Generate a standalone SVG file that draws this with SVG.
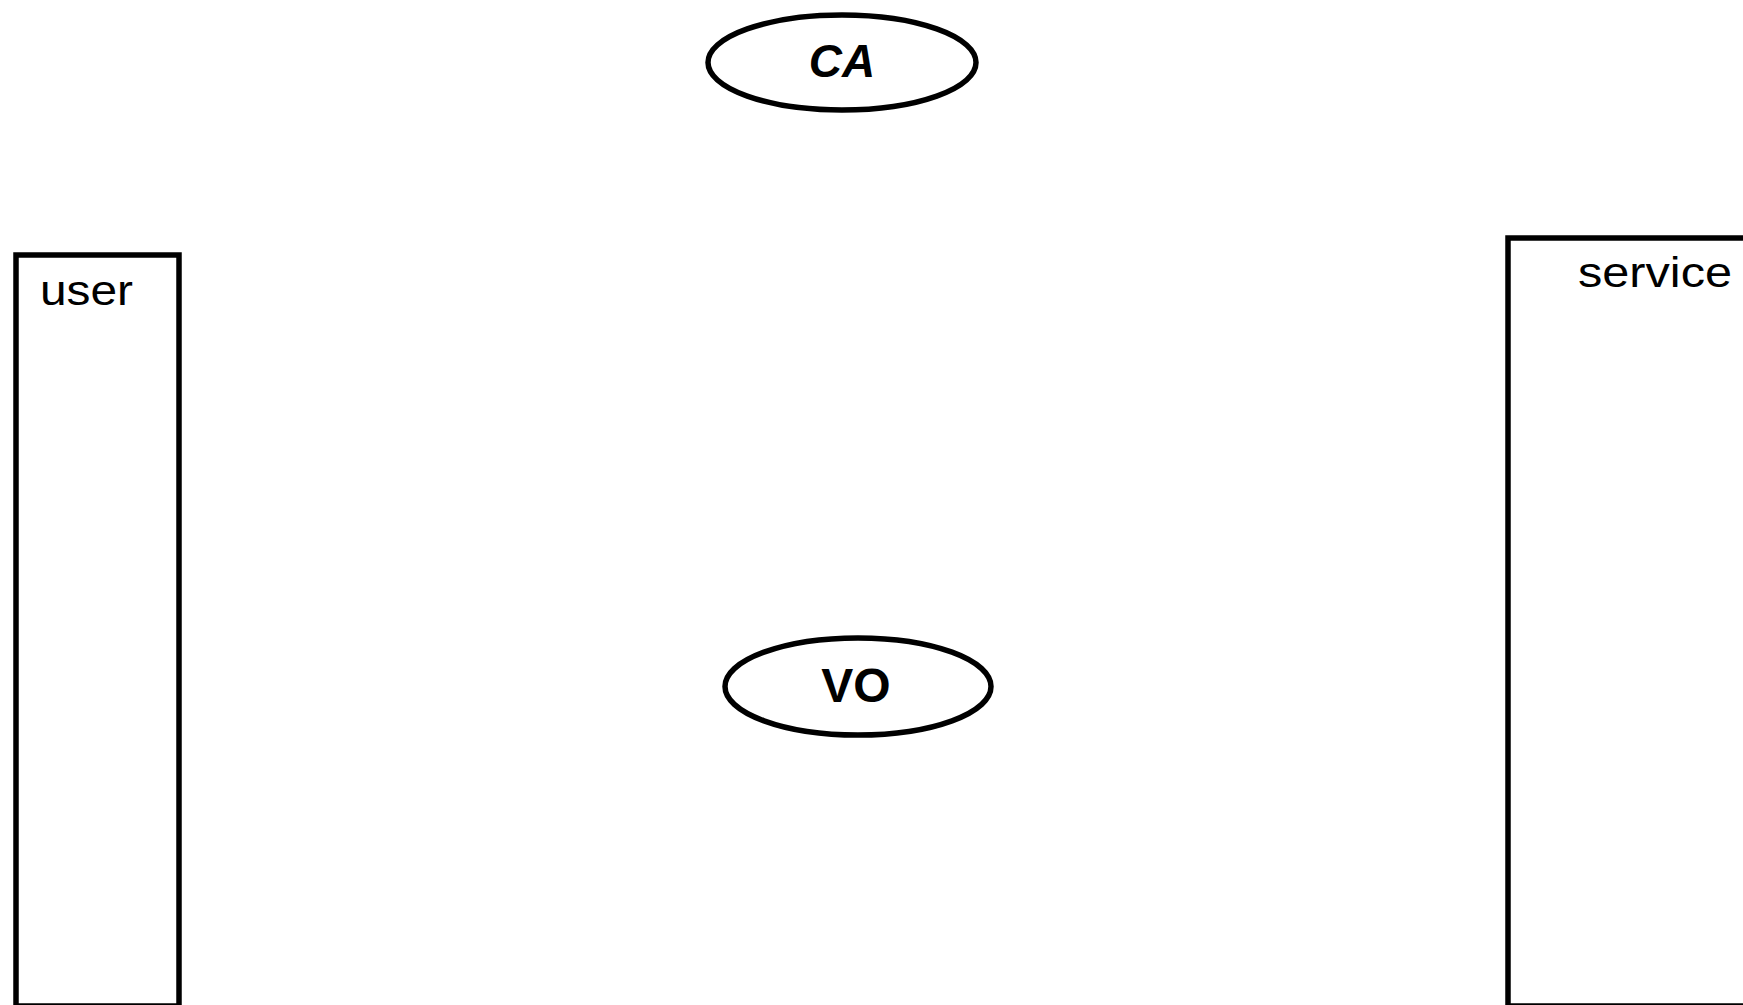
<svg xmlns="http://www.w3.org/2000/svg" width="1743" height="1005" viewBox="0 0 1743 1005">
<style>
.shape{fill:#fff;stroke:#000;stroke-width:5.5}
.lbl{font-family:"Liberation Sans","DejaVu Sans",sans-serif;fill:#000}
</style>
<rect width="1743" height="1005" fill="#fff"/>
<g id="connectors"></g>
<g id="node-user">
<rect class="shape" x="16" y="255" width="163" height="751"/>
<text class="lbl" x="40" y="305" font-size="42" textLength="93" lengthAdjust="spacingAndGlyphs">user</text>
</g>
<g id="node-service">
<rect class="shape" x="1508" y="238" width="260" height="768"/>
<text class="lbl" x="1578" y="287" font-size="42" textLength="154" lengthAdjust="spacingAndGlyphs">service</text>
</g>
<g id="node-CA">
<ellipse class="shape" cx="842" cy="62.5" rx="134" ry="47.5"/>
<text class="lbl" x="842" y="77" font-size="46" font-weight="bold" font-style="italic" text-anchor="middle">CA</text>
</g>
<g id="node-VO">
<ellipse class="shape" cx="858" cy="686.5" rx="133" ry="48.5"/>
<text class="lbl" x="856" y="702" font-size="48" font-weight="bold" text-anchor="middle">VO</text>
</g>
</svg>
